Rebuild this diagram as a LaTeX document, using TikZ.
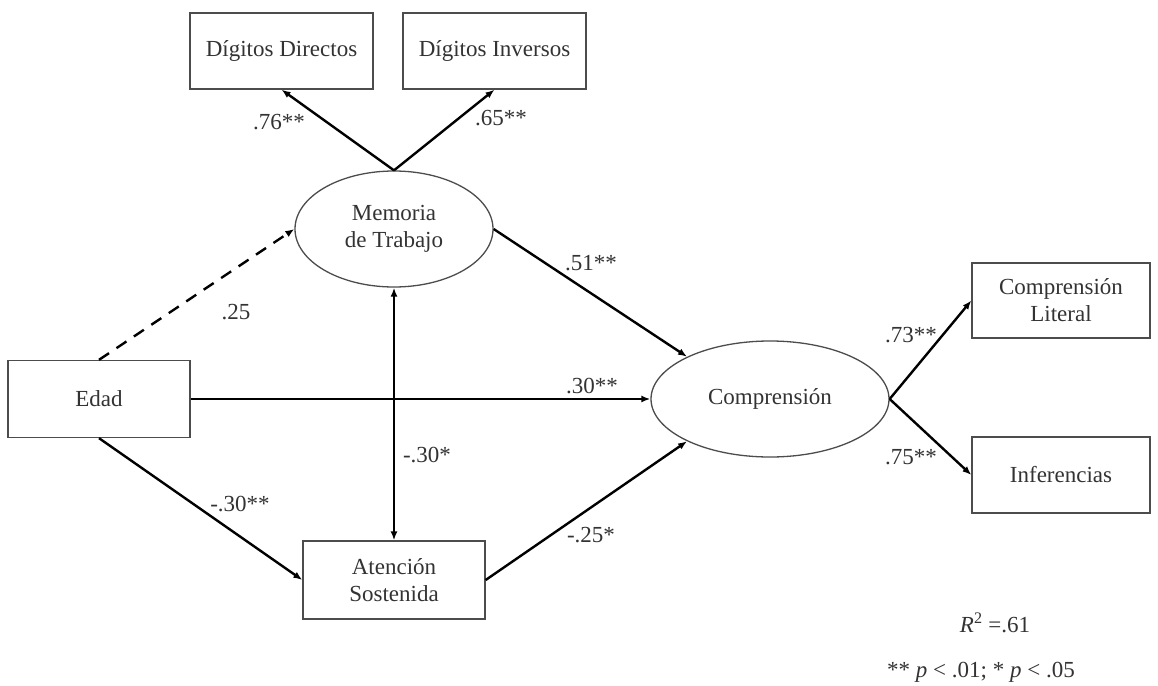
\documentclass[tikz,border=0pt]{standalone}
\usepackage{fontspec}
\setmainfont{Liberation Serif}
\usetikzlibrary{arrows.meta,shapes.geometric}
\begin{document}
\begin{tikzpicture}[x=1pt,y=-1pt,
  every node/.style={font=\fontsize{23}{27}\selectfont, text=black!80},
  obox/.style={draw=black!70, line width=1.3pt, rectangle, inner sep=0pt, align=center},
  lat/.style={draw=black!70, line width=1.3pt, ellipse, inner sep=0pt, align=center},
  path/.style={draw=black, line width=2.4pt, -{Latex[length=9pt,width=7pt]}},
  dpath/.style={path, dash pattern=on 12pt off 9pt},
  lbl/.style={inner sep=0pt}
]
\useasboundingbox (0,0) rectangle (1158,685);
\fill[white] (0,0) rectangle (1158,685);

\node[obox, minimum width=183pt, minimum height=76pt] (dd) at (281.5,51) {Dígitos Directos};
\node[obox, minimum width=183pt, minimum height=76pt] (di) at (494.5,51) {Dígitos Inversos};
\node[lat, minimum width=198pt, minimum height=116pt] (mem) at (394,229) {Memoria\\de Trabajo};
\node[obox, minimum width=182pt, minimum height=77pt] (edad) at (99,399) {Edad};
\node[obox, minimum width=182pt, minimum height=78pt] (att) at (394,580) {Atención\\Sostenida};
\node[lat, minimum width=238pt, minimum height=116pt] (comp) at (770,399) {Comprensión};
\node[obox, minimum width=178pt, minimum height=75pt] (lit) at (1061,300.5) {Comprensión\\Literal};
\node[obox, minimum width=178pt, minimum height=76pt] (inf) at (1061,475) {Inferencias};

\draw[path] (mem.north) -- (dd.south);
\draw[path] (mem.north) -- (di.south);
\draw[dpath] (edad.north) -- (mem.west);
\draw[path] (edad.east) -- (comp.west);
\draw[path] (edad.south) -- (att.west);
\draw[path, {Latex[length=9pt,width=7pt]}-{Latex[length=9pt,width=7pt]}] (mem.south) -- (att.north);
\draw[path] (mem.east) -- (comp.153);
\draw[path] (att.east) -- (comp.207);
\draw[path] (comp.east) -- (lit.west);
\draw[path] (comp.east) -- (inf.west);

\node[lbl] (l76) at (279,122) {.76**};
\node[lbl] (l65) at (501,118) {.65**};
\node[lbl] (l25) at (236,312) {.25};
\node[lbl] (l51) at (591,263) {.51**};
\node[lbl] (l30) at (592,386) {.30**};
\node[lbl] (l30m) at (427,455) {-.30*};
\node[lbl] (l30mm) at (240,504) {-.30**};
\node[lbl] (l25m) at (591,535) {-.25*};
\node[lbl] (l73) at (911,335) {.73**};
\node[lbl] (l75) at (911,457) {.75**};

\node[lbl] (r2) at (995,623) {\textit{R}\textsuperscript{2} =.61};
\node[lbl] (pv) at (981,672) {** \textit{p} < .01; * \textit{p} < .05};
\end{tikzpicture}
\end{document}
